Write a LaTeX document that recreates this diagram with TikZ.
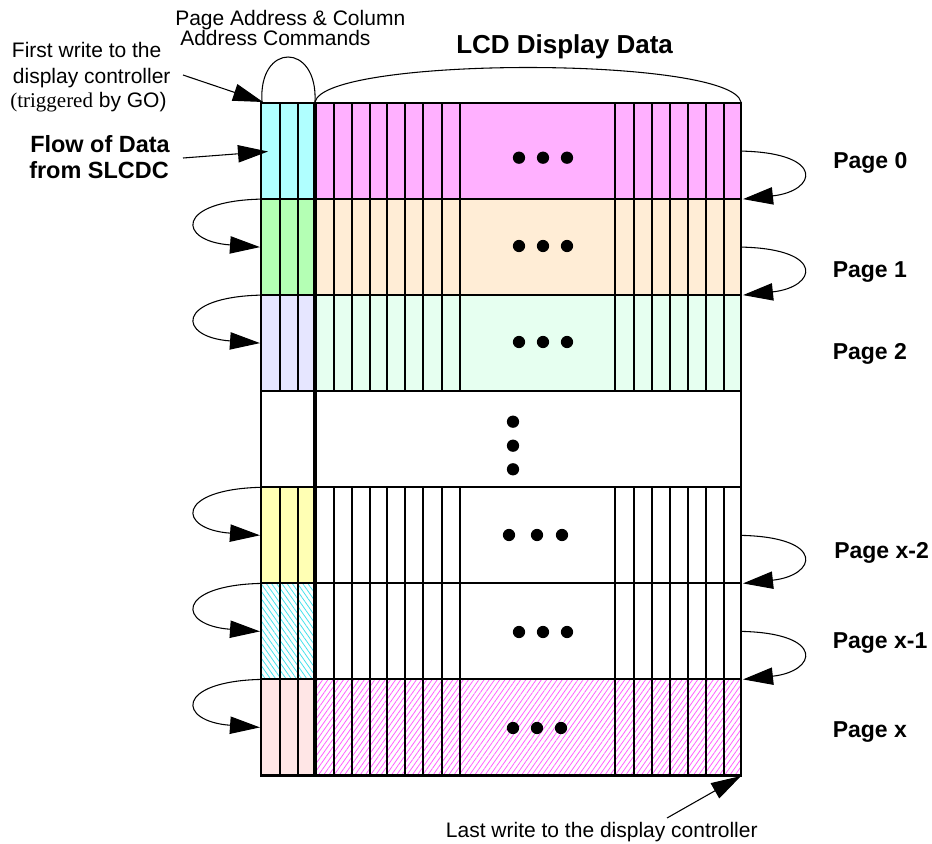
\documentclass[tikz,border=0pt]{standalone}
\usepackage{fontspec}
\setmainfont{Liberation Sans}
\newfontfamily\seriffam{Liberation Serif}
\usetikzlibrary{arrows.meta,patterns.meta}

\definecolor{cyanA}{RGB}{176,255,255}
\definecolor{pinkA}{RGB}{255,176,255}
\definecolor{greenB}{RGB}{180,255,180}
\definecolor{peachB}{RGB}{255,237,214}
\definecolor{lavC}{RGB}{230,230,255}
\definecolor{mintC}{RGB}{230,255,240}
\definecolor{yellowD}{RGB}{255,255,180}
\definecolor{roseF}{RGB}{255,230,230}
\definecolor{hatchC}{RGB}{70,225,235}
\definecolor{hatchM}{RGB}{255,95,255}

\begin{document}
\begin{tikzpicture}[x=0.75pt,y=-0.75pt,
  grid/.style={line width=1.5pt},
  border/.style={line width=2pt},
  divider/.style={line width=2.4pt},
  loopar/.style={line width=0.8pt,-{Triangle[length=22.5pt,width=13pt]}},
  pointer/.style={line width=0.8pt,-{Triangle[length=22.5pt,width=13pt]}},
  arcline/.style={line width=0.8pt},
  lbl/.style={font=\fontsize{15.75pt}{18pt}\selectfont,inner sep=0pt,anchor=base west},
  boldlbl/.style={font=\fontsize{17.6pt}{20pt}\selectfont\bfseries,inner sep=0pt,anchor=base west},
  pagelbl/.style={font=\fontsize{17.25pt}{20pt}\selectfont\bfseries,inner sep=0pt,anchor=base west},
  dotmark/.style={fill=black}
]
\useasboundingbox (0,0) rectangle (932,843);

% row fills
\fill[cyanA]   (261,103)   rectangle (315,199.1);
\fill[pinkA]   (315,103)   rectangle (741,199.1);
\fill[greenB]  (261,199.1) rectangle (315,295.1);
\fill[peachB]  (315,199.1) rectangle (741,295.1);
\fill[lavC]    (261,295.1) rectangle (315,391.2);
\fill[mintC]   (315,295.1) rectangle (741,391.2);
\fill[yellowD] (261,487.3) rectangle (315,583.4);
\fill[pattern={Lines[angle=-55,distance=3.2pt,line width=0.6pt]},pattern color=hatchC]
               (261,583.4) rectangle (315,679.4);
\fill[roseF]   (261,679.4) rectangle (315,775.5);
\fill[pattern={Lines[angle=55,distance=3.2pt,line width=0.6pt]},pattern color=hatchM]
               (315,679.4) rectangle (741,775.5);

% column lines
\foreach \ya/\yb in {103/199.1,199.1/295.1,295.1/391.2,487.3/583.4,583.4/679.4,679.4/775.5}{
  \foreach \xc in {280,298,333.5,351.5,369.5,387,405,423,441.5,460,615,633.5,652,670,688,706,724}{
    \draw[grid] (\xc,\ya) -- (\xc,\yb);
  }
}
% row lines
\foreach \yr in {199.1,295.1,391.2,487.3,583.4,679.4}{
  \draw[grid] (261,\yr) -- (741,\yr);
}
\draw[divider] (315,103) -- (315,775.5);
\draw[border] (261,103) rectangle (741,775.5);

% horizontal ellipsis dots
\foreach \xd/\yd in {519/157.7,543/157.7,567/157.7,
                     519/246,543/246,567/246,
                     519/342,543/342,567/342,
                     509/535,537/535,562/535,
                     519/632,543/632,567/632,
                     513/728,537/728,561/728,
                     513/421.7,513/445.7,513/469.3}{
  \fill[dotmark] (\xd,\yd) circle[radius=4.6pt];
}

% top arcs
\coordinate (a0) at (262,102);
\coordinate (a1) at (315,102);
\coordinate (a2) at (741,102);
\draw[arcline] (a0) .. controls (258,42) and (318,42) .. (a1);
\draw[arcline] (a1) .. controls (325,56) and (731,56) .. (a2);

% left loop arrows
\foreach \nm/\tp in {p1/199.1,p2/295.1,px2/487.3,px1/583.4,px/679.4}{
  \coordinate (ls\nm) at (261,\tp);
  \coordinate (le\nm) at (260,\tp+48);
  \draw[loopar] (ls\nm) .. controls +(-86,2) and +(-83,-6) .. (le\nm);
}
% right loop arrows
\foreach \nm/\bt in {q0/199.1,q1/295.1,qx2/583.4,qx1/679.4}{
  \coordinate (rs\nm) at (742,\bt-48);
  \coordinate (re\nm) at (743,\bt);
  \draw[loopar] (rs\nm) .. controls +(84,2) and +(74,-8) .. (re\nm);
}

% texts
\node[lbl] (pa1) at (175,25) {Page Address \& Column};
\node[lbl] (pa2) at (180,45) {Address Commands};
\node[font=\fontsize{19.5pt}{22pt}\selectfont\bfseries,inner sep=0pt,anchor=base west] (lcd) at (456,53.3) {LCD Display Data};

\node[lbl] (fw1) at (11.7,57.3) {First write to the};
\node[lbl] (fw2) at (12.7,83) {display controller};
\node[lbl] (fw3) at (10,107) {{\seriffam(triggered} by GO)};

\node[boldlbl] (fl1) at (30,152.7) {Flow of Data};
\node[boldlbl] (fl2) at (29,178.3) {from SLCDC};

\node[pagelbl] (pg0) at (833,168.3) {Page 0};
\node[pagelbl] (pg1) at (832.5,277.5) {Page 1};
\node[pagelbl] (pg2) at (832.5,359.5) {Page 2};
\node[pagelbl] (pgx2) at (834,558.3) {Page x-2};
\node[pagelbl] (pgx1) at (832.5,648.5) {Page x-1};
\node[pagelbl] (pgx) at (832.5,737.5) {Page x};

\node[lbl] (lw) at (445.7,837) {Last write to the display controller};

% pointer arrows
\coordinate (fwS) at (183,75);
\coordinate (fwT) at (263,102);
\draw[pointer] (fwS) -- (fwT);
\coordinate (flS) at (183,158);
\coordinate (flT) at (268,151.5);
\draw[pointer] (flS) -- (flT);
\coordinate (lwS) at (667,818);
\coordinate (lwT) at (741,776);
\draw[pointer] (lwS) -- (lwT);
\end{tikzpicture}
\end{document}
